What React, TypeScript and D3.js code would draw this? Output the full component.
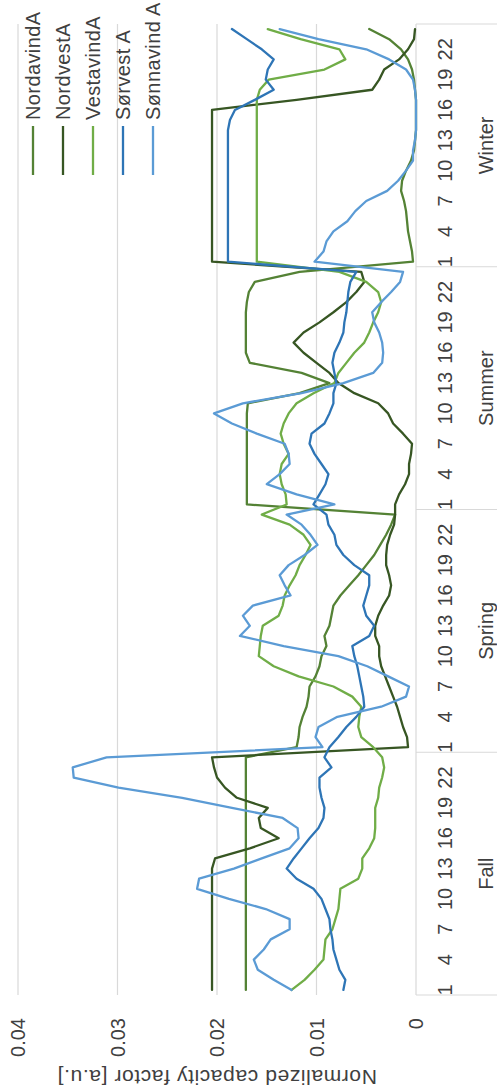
import React from "react";
import * as d3 from "d3";

// ---- data ----
const seasons = ["Fall", "Spring", "Summer", "Winter"];
const hours = [1, 2, 3, 4, 5, 6, 7, 8, 9, 10, 11, 12, 13, 14, 15, 16, 17, 18, 19, 20, 21, 22, 23, 24];
const tickHours = [1, 4, 7, 10, 13, 16, 19, 22];
const valueTicks = [0, 0.01, 0.02, 0.03, 0.04];
const seriesNames = ["NordavindA", "NordvestA", "VestavindA", "Sørvest A", "Sønnavind A"];
const seriesColors = ["#548235", "#375623", "#70AD47", "#2E75B6", "#5B9BD5"];

// order: Fall h1..24, Spring h1..24, Summer h1..24, Winter h1..24
const nordavindA = [
  0.0171, 0.0171, 0.0171, 0.0171, 0.0171, 0.0171, 0.0171, 0.0171, 0.0171, 0.0171, 0.0171, 0.0171,
  0.0171, 0.0171, 0.0171, 0.0171, 0.0171, 0.0171, 0.0171, 0.0171, 0.0171, 0.0171, 0.0171, 0.0171,
  0.0120, 0.0118, 0.0117, 0.0114, 0.0110, 0.0108, 0.0107, 0.0101, 0.0097, 0.0095, 0.0090, 0.0092,
  0.0087, 0.0085, 0.0083, 0.0076, 0.0067, 0.0058, 0.0050, 0.0042, 0.0036, 0.0030, 0.0025, 0.0021,
  0.0170, 0.0170, 0.0170, 0.0170, 0.0170, 0.0170, 0.0170, 0.0170, 0.0170, 0.0170, 0.0169, 0.0117,
  0.0087, 0.0115, 0.0167, 0.0171, 0.0171, 0.0171, 0.0171, 0.0171, 0.0170, 0.0168, 0.0162, 0.0117,
  0.0003, 0.0004, 0.0006, 0.0008, 0.0009, 0.0010, 0.0012, 0.0015, 0.0014, 0.0010, 0.0005, 0.0002,
  0.0001, 0.0000, 0.0000, 0.0000, 0.0000, 0.0001, 0.0002, 0.0004, 0.0008, 0.0015, 0.0027, 0.0047,
];
const nordvestA = [
  0.0205, 0.0205, 0.0205, 0.0205, 0.0205, 0.0205, 0.0205, 0.0205, 0.0205, 0.0205, 0.0205, 0.0205,
  0.0205, 0.0202, 0.0167, 0.0138, 0.0156, 0.0158, 0.0149, 0.0180, 0.0192, 0.0200, 0.0203, 0.0205,
  0.0008, 0.0009, 0.0013, 0.0016, 0.0019, 0.0023, 0.0027, 0.0031, 0.0035, 0.0037, 0.0037, 0.0041,
  0.0041, 0.0038, 0.0033, 0.0027, 0.0025, 0.0027, 0.0030, 0.0030, 0.0029, 0.0026, 0.0022, 0.0021,
  0.0021, 0.0017, 0.0011, 0.0007, 0.0007, 0.0005, 0.0004, 0.0013, 0.0023, 0.0028, 0.0038, 0.0062,
  0.0078, 0.0087, 0.0100, 0.0113, 0.0123, 0.0113, 0.0097, 0.0083, 0.0070, 0.0060, 0.0052, 0.0055,
  0.0205, 0.0205, 0.0205, 0.0205, 0.0205, 0.0205, 0.0205, 0.0205, 0.0205, 0.0205, 0.0205, 0.0205,
  0.0205, 0.0205, 0.0205, 0.0205, 0.0120, 0.0044, 0.0037, 0.0032, 0.0017, 0.0008, 0.0002, 0.0001,
];
const vestavindA = [
  0.0125, 0.0112, 0.0102, 0.0093, 0.0092, 0.0091, 0.0084, 0.0081, 0.0078, 0.0077, 0.0076, 0.0058,
  0.0054, 0.0054, 0.0047, 0.0042, 0.0041, 0.0041, 0.0041, 0.0038, 0.0037, 0.0034, 0.0032, 0.0034,
  0.0043, 0.0055, 0.0058, 0.0057, 0.0055, 0.0064, 0.0083, 0.0118, 0.0143, 0.0158, 0.0157, 0.0156,
  0.0154, 0.0138, 0.0134, 0.0132, 0.0127, 0.0121, 0.0117, 0.0111, 0.0106, 0.0113, 0.0127, 0.0155,
  0.0130, 0.0131, 0.0135, 0.0137, 0.0135, 0.0128, 0.0133, 0.0136, 0.0133, 0.0128, 0.0120, 0.0103,
  0.0082, 0.0078, 0.0070, 0.0062, 0.0052, 0.0047, 0.0043, 0.0038, 0.0035, 0.0038, 0.0050, 0.0077,
  0.0160, 0.0160, 0.0160, 0.0160, 0.0160, 0.0160, 0.0160, 0.0160, 0.0160, 0.0160, 0.0160, 0.0160,
  0.0160, 0.0160, 0.0160, 0.0160, 0.0160, 0.0157, 0.0148, 0.0092, 0.0071, 0.0077, 0.0116, 0.0149,
];
const sorvestA = [
  0.0073, 0.0071, 0.0077, 0.0080, 0.0083, 0.0084, 0.0086, 0.0087, 0.0091, 0.0095, 0.0103, 0.0120,
  0.0130, 0.0123, 0.0115, 0.0107, 0.0098, 0.0093, 0.0092, 0.0095, 0.0097, 0.0097, 0.0085, 0.0092,
  0.0087, 0.0078, 0.0070, 0.0060, 0.0052, 0.0053, 0.0055, 0.0057, 0.0059, 0.0062, 0.0064, 0.0047,
  0.0042, 0.0050, 0.0053, 0.0050, 0.0047, 0.0047, 0.0062, 0.0073, 0.0080, 0.0082, 0.0088, 0.0090,
  0.0103, 0.0097, 0.0091, 0.0088, 0.0095, 0.0102, 0.0107, 0.0105, 0.0092, 0.0087, 0.0083, 0.0083,
  0.0080, 0.0082, 0.0084, 0.0082, 0.0077, 0.0073, 0.0072, 0.0070, 0.0069, 0.0068, 0.0066, 0.0060,
  0.0189, 0.0189, 0.0189, 0.0189, 0.0189, 0.0189, 0.0189, 0.0189, 0.0189, 0.0189, 0.0189, 0.0189,
  0.0189, 0.0189, 0.0187, 0.0182, 0.0162, 0.0143, 0.0151, 0.0149, 0.0143, 0.0155, 0.0170, 0.0185,
];
const sonnavindA = [
  0.0125, 0.0143, 0.0159, 0.0163, 0.0153, 0.0146, 0.0127, 0.0127, 0.0151, 0.0188, 0.0220, 0.0218,
  0.0183, 0.0155, 0.0127, 0.0118, 0.0119, 0.0134, 0.0185, 0.0235, 0.0299, 0.0344, 0.0345, 0.0311,
  0.0094, 0.0101, 0.0098, 0.0079, 0.0035, 0.0010, 0.0007, 0.0028, 0.0049, 0.0078, 0.0133, 0.0177,
  0.0167, 0.0174, 0.0164, 0.0126, 0.0132, 0.0137, 0.0128, 0.0112, 0.0099, 0.0106, 0.0115, 0.0130,
  0.0082, 0.0120, 0.0150, 0.0137, 0.0127, 0.0128, 0.0132, 0.0160, 0.0185, 0.0203, 0.0174, 0.0115,
  0.0073, 0.0043, 0.0034, 0.0033, 0.0034, 0.0037, 0.0042, 0.0044, 0.0035, 0.0025, 0.0016, 0.0013,
  0.0102, 0.0093, 0.0090, 0.0083, 0.0069, 0.0061, 0.0050, 0.0029, 0.0018, 0.0010, 0.0003, 0.0003,
  0.0001, 0.0000, 0.0000, 0.0000, 0.0000, 0.0001, 0.0003, 0.0010, 0.0027, 0.0050, 0.0098, 0.0137,
];
const seriesValues = [nordavindA, nordvestA, vestavindA, sorvestA, sonnavindA];

// ---- layout (drawn in landscape, then rotated -90deg) ----
const LW = 1092;
const LH = 497;
const PLOT_L = 97;
const PLOT_R = 1068;
const PLOT_T = 18;
const PLOT_B = 416;
const FONT = "'Liberation Sans', Arial, sans-serif";
const TEXT = "#404040";
const GRID = "#D9D9D9";

export default function App() {
  const categories = seasons.flatMap((s) => hours.map((h) => `${s}-${h}`));
  const x = d3.scaleBand<string>().domain(categories).range([PLOT_L, PLOT_R]).padding(0);
  const bw = x.bandwidth();
  const cx = (s: string, h: number) => (x(`${s}-${h}`) as number) + bw / 2;
  const y = d3.scaleLinear().domain([0, 0.04]).range([PLOT_B, PLOT_T]);

  const line = d3
    .line<number>()
    .x((_, i) => (x(categories[i]) as number) + bw / 2)
    .y((v) => y(v));

  const boundaries = seasons.map((s) => x(`${s}-1`) as number).concat([PLOT_R]);

  return (
    <svg
      width={LH}
      height={LW}
      style={{ position: "absolute", left: 0, top: 0, background: "#fff" }}
      fontFamily={FONT}
    >
      <rect x={0} y={0} width={LH} height={LW} fill="#fff" />
      <g transform={`translate(0,${LW}) rotate(-90)`}>
        {/* gridlines */}
        {valueTicks.filter((v) => v > 0).map((v) => (
          <line key={v} x1={PLOT_L} x2={PLOT_R} y1={y(v)} y2={y(v)} stroke={GRID} strokeWidth={1.2} />
        ))}
        {/* category axis */}
        <line x1={PLOT_L} x2={PLOT_R} y1={PLOT_B} y2={PLOT_B} stroke={GRID} strokeWidth={1.2} />
        {boundaries.map((b, i) => (
          <line key={i} x1={b} x2={b} y1={PLOT_B} y2={LH} stroke={GRID} strokeWidth={1.2} />
        ))}
        {/* hour tick labels */}
        {seasons.map((s) =>
          tickHours.map((h) => (
            <text key={`${s}-${h}`} x={cx(s, h)} y={452} textAnchor="middle" fontSize={20} fill={TEXT}>
              {h}
            </text>
          ))
        )}
        {/* season labels */}
        {seasons.map((s, i) => (
          <text
            key={s}
            x={(boundaries[i] + boundaries[i + 1]) / 2}
            y={493}
            textAnchor="middle"
            fontSize={20}
            fill={TEXT}
          >
            {s}
          </text>
        ))}
        {/* value tick labels */}
        {valueTicks.map((v) => (
          <text key={v} x={74} y={y(v)} dy="0.36em" textAnchor="end" fontSize={20} fill={TEXT}>
            {v === 0 ? "0" : d3.format(".2f")(v)}
          </text>
        ))}
        {/* axis title */}
        <text
          transform={`translate(22,${(PLOT_T + PLOT_B) / 2}) rotate(-90)`}
          textAnchor="middle"
          fontSize={21}
          letterSpacing={0.6}
          fill={TEXT}
        >
          Normalized capacity factor [a.u.]
        </text>
        {/* series */}
        {seriesValues.map((vals, i) => (
          <path
            key={seriesNames[i]}
            d={line(vals) as string}
            fill="none"
            stroke={seriesColors[i]}
            strokeWidth={2.3}
            strokeLinejoin="round"
            strokeLinecap="round"
          />
        ))}
        {/* legend */}
        {seriesNames.map((n, i) => (
          <g key={n}>
            <line
              x1={917}
              x2={966}
              y1={33 + 30 * i}
              y2={33 + 30 * i}
              stroke={seriesColors[i]}
              strokeWidth={2.3}
            />
            <text x={972} y={40 + 30 * i} fontSize={20} letterSpacing={0.4} fill={TEXT}>
              {n}
            </text>
          </g>
        ))}
      </g>
    </svg>
  );
}
